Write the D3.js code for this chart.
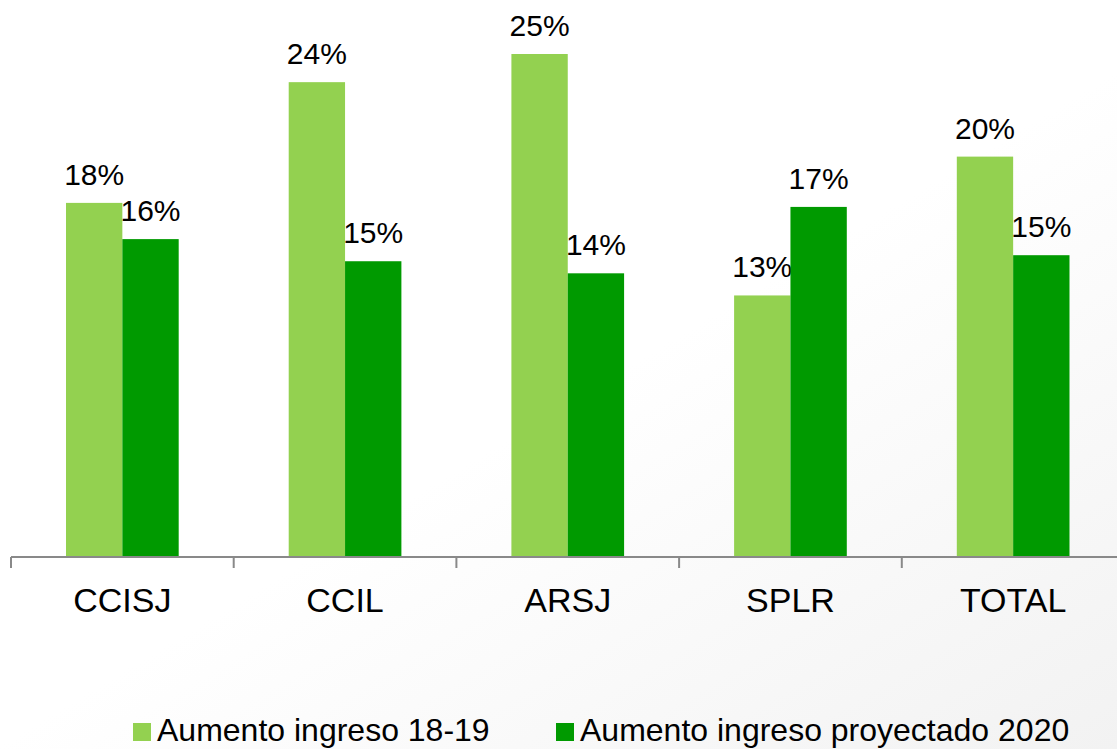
<!DOCTYPE html>
<html><head><meta charset="utf-8">
<script src="https://cdn.jsdelivr.net/npm/d3@7"></script>
<style>html,body{margin:0;padding:0;overflow:hidden;}svg{display:block;font-family:"Liberation Sans",Arial,sans-serif;}</style>
</head><body>
<script>
const categories = ["CCISJ", "CCIL", "ARSJ", "SPLR", "TOTAL"];
const seriesNames = ["Aumento ingreso 18-19", "Aumento ingreso proyectado 2020"];
const aumento1819 = [0.176, 0.236, 0.25, 0.13, 0.199];
const proyectado2020 = [0.158, 0.147, 0.141, 0.174, 0.150];
const colors = ["#93D150", "#009A00"];

const W = 1117, H = 749;
const svg = d3.select("body").append("svg").attr("width", W).attr("height", H);
const defs = svg.append("defs");
const grad = defs.append("linearGradient").attr("id", "bg")
  .attr("x1", "0.1").attr("y1", "0").attr("x2", "1").attr("y2", "1");
grad.append("stop").attr("offset", "0").attr("stop-color", "#ffffff");
grad.append("stop").attr("offset", "0.5").attr("stop-color", "#ffffff");
grad.append("stop").attr("offset", "1").attr("stop-color", "#f2f2f2");
svg.append("rect").attr("width", W).attr("height", H).attr("fill", "url(#bg)");

const x0 = d3.scaleBand().domain(categories).range([11, 11 + 5 * 222.7]).paddingInner(0).paddingOuter(0);
const inner = 0.247;
const x1 = d3.scaleBand().domain([0, 1]).range([x0.bandwidth() * inner, x0.bandwidth() * (1 - inner)]);
const y = d3.scaleLinear().domain([0, 0.28]).range([557, 557 - 0.28 * 2012]);
const fmt = d3.format(".0%");
const series = [aumento1819, proyectado2020];

const g = svg.append("g");
categories.forEach((c, i) => {
  series.forEach((s, k) => {
    const bx = x0(c) + x1(k);
    g.append("rect").attr("x", bx).attr("y", y(s[i])).attr("width", x1.bandwidth())
      .attr("height", y(0) - y(s[i])).attr("fill", colors[k]);
    g.append("text").attr("x", bx + x1.bandwidth() / 2).attr("y", y(s[i]) - 18)
      .attr("text-anchor", "middle").attr("font-size", 30).attr("fill", "#000").text(fmt(s[i]));
  });
});

// axis
const axis = svg.append("g");
axis.append("line").attr("x1", 11).attr("x2", W).attr("y1", 557).attr("y2", 557)
  .attr("stroke", "#898989").attr("stroke-width", 2);
categories.forEach((c) => {
  axis.append("line").attr("x1", x0(c)).attr("x2", x0(c)).attr("y1", 557).attr("y2", 568)
    .attr("stroke", "#898989").attr("stroke-width", 2);
  axis.append("text").attr("x", x0(c) + x0.bandwidth() / 2).attr("y", 612)
    .attr("text-anchor", "middle").attr("font-size", 34).attr("fill", "#000").text(c);
});

// legend
const legX = [133, 556];
seriesNames.forEach((n, k) => {
  svg.append("rect").attr("x", legX[k]).attr("y", 723).attr("width", 18).attr("height", 18).attr("fill", colors[k]);
  svg.append("text").attr("x", legX[k] + 24).attr("y", 741).attr("font-size", 32).attr("fill", "#000").text(n);
});
</script>
</body></html>
